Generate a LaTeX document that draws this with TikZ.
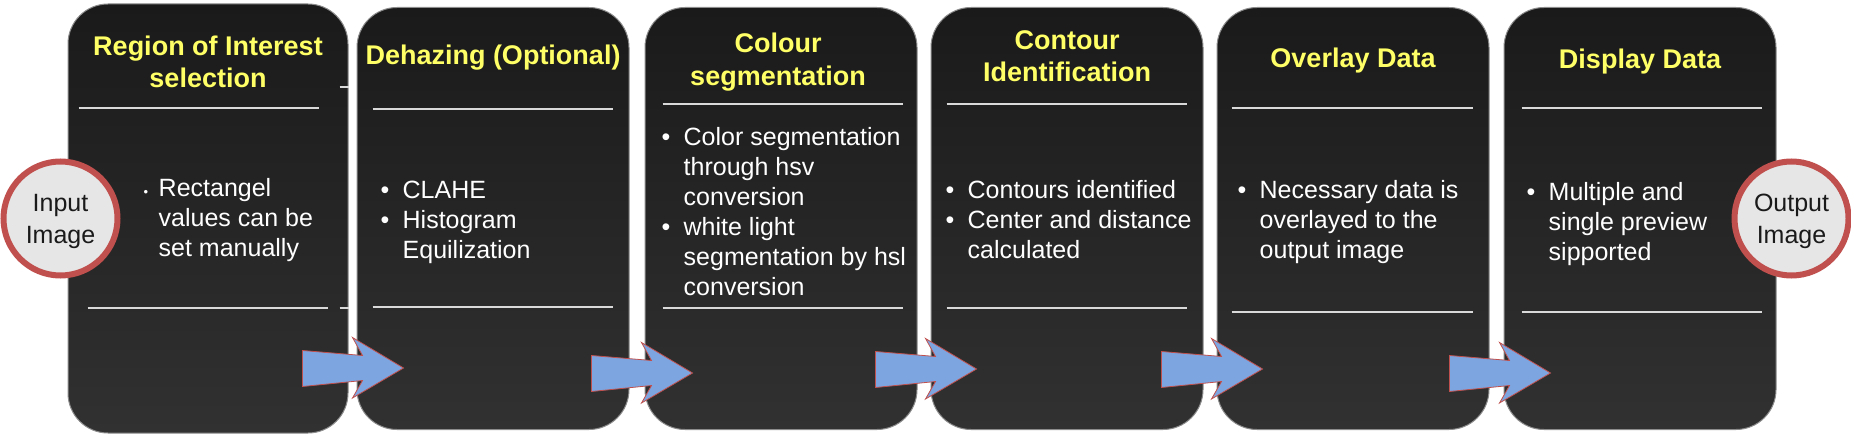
\documentclass[tikz,border=0pt]{standalone}
\usepackage{fontspec}
\setmainfont{Liberation Sans}
\usetikzlibrary{positioning}
\definecolor{ctitle}{HTML}{FFFF66}
\definecolor{cboxtop}{HTML}{1A1A1A}
\definecolor{cboxbot}{HTML}{313131}
\definecolor{cborder}{HTML}{8C8C8C}
\definecolor{crule}{HTML}{D9D9D9}
\definecolor{cblue}{HTML}{7DA5DF}
\definecolor{cred}{HTML}{C0504D}
\definecolor{cdisc}{HTML}{E6E6E6}
\definecolor{ctextd}{HTML}{1A1A1A}
\tikzset{
  stage/.style 2 args={
    rectangle, rounded corners=40pt,
    draw=cborder, line width=1pt,
    top color=cboxtop, bottom color=cboxbot,
    minimum width=#1, minimum height=#2,
    inner sep=0pt,
  },
  ttl/.style={font=\fontsize{27}{32.4}\selectfont\bfseries, text=ctitle,
    align=center, inner sep=0pt},
  body/.style={font=\fontsize{25}{30}\selectfont, text=white,
    inner sep=0pt, anchor=north west},
  divider/.style={crule, line width=2pt},
  barrow/.style={fill=cblue, draw=cred, line width=0.8pt},
  io/.style={
    circle, draw=cred, line width=6pt, fill=cdisc,
    minimum size=114pt, inner sep=0pt,
    text=ctextd, font=\fontsize{25}{32}\selectfont, align=center,
    text depth=0pt,
  },
}
\newcommand{\blockarrow}[1]{%
  \draw[barrow] #1 -- ++(60,5) -- ++(-10,-18) -- ++(51,30.5)
    -- ++(-51,30) -- ++(10,-17.5) -- ++(-60,6) -- cycle;}

\begin{document}
\begin{tikzpicture}[x=1pt, y=-1pt]
\useasboundingbox (0,0) rectangle (1851,438);

%% -- stages ------------------------------------------------
\node[stage={280pt}{429pt}] (b1) at (208,218.5) {};
\node[stage={272pt}{422pt}, right=8pt of b1]  (b2) {};
\node[stage={272pt}{422pt}, right=15pt of b2] (b3) {};
\node[stage={272pt}{422pt}, right=13pt of b3] (b4) {};
\node[stage={272pt}{422pt}, right=13pt of b4] (b5) {};
\node[stage={272pt}{422pt}, right=14pt of b5] (b6) {};

%% -- dividers ----------------------------------------------
\draw[divider] ([xshift=11pt,yshift=-105pt]b1.north west) -- ++(240,0);
\draw[divider] ([xshift=20pt,yshift=-304pt]b1.north west) -- ++(240,0);
\draw[divider] ([xshift=-9pt,yshift=-84pt]b1.north east) -- ++(9,0);
\draw[divider] ([xshift=-9pt,yshift=-304pt]b1.north east) -- ++(9,0);
\draw[divider] ([xshift=16pt,yshift=-102pt]b2.north west) -- ++(240,0);
\draw[divider] ([xshift=16pt,yshift=-300pt]b2.north west) -- ++(240,0);
\draw[divider] ([xshift=18pt,yshift=-97pt]b3.north west) -- ++(240,0);
\draw[divider] ([xshift=18pt,yshift=-301pt]b3.north west) -- ++(240,0);
\draw[divider] ([xshift=16pt,yshift=-97pt]b4.north west) -- ++(240,0);
\draw[divider] ([xshift=16pt,yshift=-301pt]b4.north west) -- ++(240,0);
\draw[divider] ([xshift=15pt,yshift=-101pt]b5.north west) -- ++(241,0);
\draw[divider] ([xshift=15pt,yshift=-305pt]b5.north west) -- ++(241,0);
\draw[divider] ([xshift=18pt,yshift=-101pt]b6.north west) -- ++(240,0);
\draw[divider] ([xshift=18pt,yshift=-305pt]b6.north west) -- ++(240,0);

%% -- titles ------------------------------------------------
\node[ttl] (t1) at ([yshift=-58.5pt]b1.north) {Region of Interest\\selection};
\node[ttl, anchor=base] (t2) at ([yshift=-57.5pt]b2.north) {Dehazing (Optional)};
\node[ttl] (t3) at ([xshift=-3pt,yshift=-55pt]b3.north) {Colour\\segmentation};
\node[ttl] (t4) at ([yshift=-49pt]b4.north) {Contour\\Identification};
\node[ttl, anchor=base] (t5) at ([yshift=-61pt]b5.north) {Overlay Data};
\node[ttl, anchor=base] (t6) at ([yshift=-61.5pt]b6.north) {Display Data};

%% -- bullet texts ------------------------------------------
\node[body] (l1) at ([xshift=76pt,yshift=-172pt]b1.north west) {%
  \begin{tabular}{@{}p{15pt}@{}l@{}}
  {\fontsize{13}{13}\selectfont\textbullet} & Rectangel\\
  & values can be\\
  & set manually
  \end{tabular}};
\node[body] (l2) at ([xshift=24pt,yshift=-170pt]b2.north west) {%
  \begin{tabular}{@{}p{22pt}@{}l@{}}
  \textbullet & CLAHE\\
  \textbullet & Histogram\\
  & Equilization
  \end{tabular}};
\node[body] (l3) at ([xshift=17pt,yshift=-117pt]b3.north west) {%
  \begin{tabular}{@{}p{22pt}@{}l@{}}
  \textbullet & Color segmentation\\
  & through hsv\\
  & conversion\\
  \textbullet & white light\\
  & segmentation by hsl\\
  & conversion
  \end{tabular}};
\node[body] (l4) at ([xshift=15pt,yshift=-170pt]b4.north west) {%
  \begin{tabular}{@{}p{22pt}@{}l@{}}
  \textbullet & Contours identified\\
  \textbullet & Center and distance\\
  & calculated
  \end{tabular}};
\node[body] (l5) at ([xshift=21pt,yshift=-170pt]b5.north west) {%
  \begin{tabular}{@{}p{22pt}@{}l@{}}
  \textbullet & Necessary data is\\
  & overlayed to the\\
  & output image
  \end{tabular}};
\node[body] (l6) at ([xshift=23pt,yshift=-172pt]b6.north west) {%
  \begin{tabular}{@{}p{22pt}@{}l@{}}
  \textbullet & Multiple and\\
  & single preview\\
  & sipported
  \end{tabular}};

%% -- block arrows between stages ---------------------------
\blockarrow{([xshift=-54pt,yshift=-132pt]b2.west)}
\blockarrow{([xshift=-53pt,yshift=-137pt]b3.west)}
\blockarrow{([xshift=-55pt,yshift=-133pt]b4.west)}
\blockarrow{([xshift=-55pt,yshift=-133pt]b5.west)}
\blockarrow{([xshift=-54pt,yshift=-137pt]b6.west)}

%% -- input / output ----------------------------------------
\node[io] (in)  at ([xshift=-7pt]b1.west)  {Input\\Image};
\node[io] (out) at ([xshift=15pt]b6.east)  {Output\\Image};

\end{tikzpicture}
\end{document}
